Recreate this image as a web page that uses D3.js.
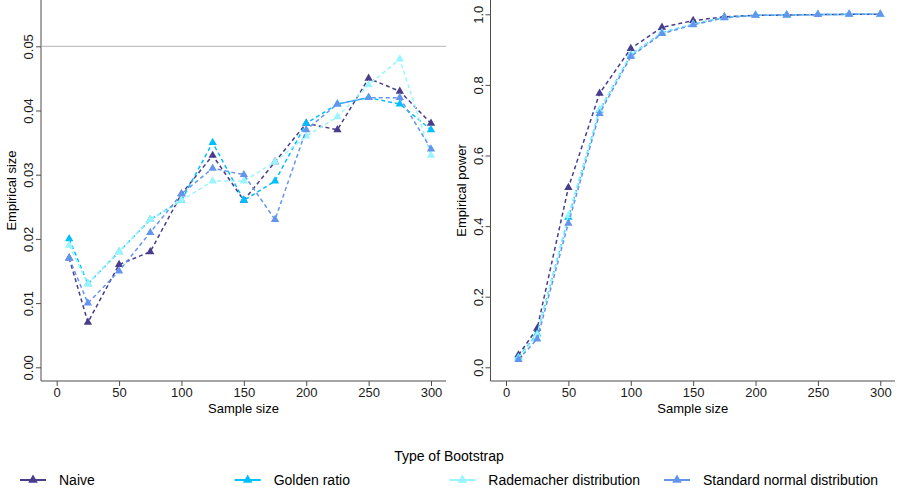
<!DOCTYPE html>
<html>
<head>
<meta charset="utf-8">
<script src="https://cdn.jsdelivr.net/npm/d3@7"></script>
<style>
  body { margin: 0; background: #fff; }
  svg { font-family: "Liberation Sans", Arial, sans-serif; }
</style>
</head>
<body>
<div id="chart"></div>
<script>
// Bootstrap simulation: empirical size and power by sample size

const sampleSizes = [10, 25, 50, 75, 100, 125, 150, 175, 200, 225, 250, 275, 300]
const bootTypes = ['Naive', 'Golden ratio', 'Rademacher distribution', 'Standard normal distribution']
const colors = ['#483D8B', '#00BFFF', '#98F5FF', '#6495ED']

// empirical size (left panel)
const sizeNaive = [0.017, 0.007, 0.016, 0.018, 0.027, 0.033, 0.026, 0.032, 0.038, 0.037, 0.045, 0.043, 0.038]
const sizeGolden = [0.020, 0.013, 0.018, 0.023, 0.026, 0.035, 0.026, 0.029, 0.038, 0.041, 0.042, 0.041, 0.037]
const sizeRademacher = [0.019, 0.013, 0.018, 0.023, 0.026, 0.029, 0.029, 0.032, 0.036, 0.039, 0.044, 0.048, 0.033]
const sizeNormal = [0.017, 0.010, 0.015, 0.021, 0.027, 0.031, 0.030, 0.023, 0.037, 0.041, 0.042, 0.042, 0.034]

// empirical power (right panel)
const powerNaive = [0.035, 0.11, 0.509, 0.776, 0.903, 0.963, 0.982, 0.993, 0.997, 0.998, 0.999, 1.0, 1.0]
const powerGolden = [0.028, 0.095, 0.425, 0.728, 0.885, 0.948, 0.972, 0.991, 0.997, 0.998, 0.999, 1.0, 1.0]
const powerRademacher = [0.026, 0.092, 0.430, 0.730, 0.884, 0.947, 0.972, 0.990, 0.997, 0.998, 0.999, 1.0, 1.0]
const powerNormal = [0.022, 0.080, 0.408, 0.719, 0.880, 0.945, 0.970, 0.990, 0.997, 0.998, 0.999, 1.0, 1.0]

const xTicks = [0, 50, 100, 150, 200, 250, 300]
const sizeTicks = [0, 0.01, 0.02, 0.03, 0.04, 0.05]
const powerTicks = [0, 0.2, 0.4, 0.6, 0.8, 1.0]
const sizeLevel = 0.05

const width = 899
const height = 500

const svg = d3.select('#chart')
  .append('svg')
  .attr('width', width)
  .attr('height', height)

const triangle = d3.symbol().type(d3.symbolTriangle).size(30)

// draw one panel
const panel = (opts) => {
  const x = d3.scaleLinear().domain([0, 300]).range([opts.x0, opts.x1])
  const y = d3.scaleLinear().domain(opts.yDomain).range([opts.y0, opts.y1])
  const g = svg.append('g')

  // L-shaped frame
  g.append('path')
    .attr('d', `M${opts.left},0V${opts.bottom}H${opts.right}`)
    .attr('fill', 'none')
    .attr('stroke', '#4d4d4d')
    .attr('stroke-width', 1)

  // y axis
  const yAxis = g.append('g')
    .attr('transform', `translate(${opts.left},0)`)
    .call(d3.axisLeft(y).tickValues(opts.yTicks).tickSize(5).tickFormat(opts.yFormat))
  yAxis.select('.domain').remove()
  yAxis.selectAll('.tick line').attr('stroke', '#4d4d4d')
  yAxis.selectAll('.tick text')
    .attr('x', null).attr('dy', null)
    .attr('transform', 'translate(-8,0) rotate(-90)')
    .attr('text-anchor', 'middle')
    .attr('fill', '#1a1a1a')
    .style('font-size', '13px')

  // x axis
  const xAxis = g.append('g')
    .attr('transform', `translate(0,${opts.bottom})`)
    .call(d3.axisBottom(x).tickValues(xTicks).tickSize(5))
  xAxis.select('.domain').remove()
  xAxis.selectAll('.tick line').attr('stroke', '#4d4d4d')
  xAxis.selectAll('.tick text')
    .attr('y', 16).attr('dy', null)
    .attr('fill', '#1a1a1a')
    .style('font-size', '13px')

  g.append('text')
    .text('Sample size')
    .attr('x', (opts.left + opts.right) / 2)
    .attr('y', opts.bottom + 32)
    .attr('text-anchor', 'middle')
    .style('font-size', '13px')

  g.append('text')
    .text(opts.title)
    .attr('transform', `translate(${opts.left - 25},${opts.bottom / 2}) rotate(-90)`)
    .attr('text-anchor', 'middle')
    .style('font-size', '13px')

  if (opts.refLine != null) {
    g.append('line')
      .attr('x1', opts.left).attr('x2', opts.right)
      .attr('y1', y(opts.refLine)).attr('y2', y(opts.refLine))
      .attr('stroke', '#b3b3b3')
      .attr('stroke-width', 1)
  }

  const line = d3.line()
    .x((d, i) => x(sampleSizes[i]))
    .y((d) => y(d))

  opts.series.forEach((vals, k) => {
    g.append('path')
      .datum(vals)
      .attr('d', line)
      .attr('fill', 'none')
      .attr('stroke', colors[k])
      .attr('stroke-width', 1.5)
      .attr('stroke-dasharray', '4,3')
    g.selectAll(null)
      .data(vals)
      .enter().append('path')
      .attr('d', triangle)
      .attr('transform', (d, i) => `translate(${x(sampleSizes[i])},${y(d)})`)
      .attr('fill', colors[k])
  })
}

panel({
  left: 41, right: 446, bottom: 381,
  x0: 56.7, x1: 431,
  yDomain: [0, 0.05], y0: 367.3, y1: 46.3,
  yTicks: sizeTicks, yFormat: d3.format('.2f'),
  title: 'Empirical size',
  refLine: sizeLevel,
  series: [sizeNaive, sizeGolden, sizeRademacher, sizeNormal]
})

panel({
  left: 490.5, right: 895, bottom: 381,
  x0: 506, x1: 880.3,
  yDomain: [0, 1], y0: 367.3, y1: 14.3,
  yTicks: powerTicks, yFormat: d3.format('.1f'),
  title: 'Empirical power',
  refLine: null,
  series: [powerNaive, powerGolden, powerRademacher, powerNormal]
})

// Legend
svg.append('text')
  .text('Type of Bootstrap')
  .attr('x', 449)
  .attr('y', 461)
  .attr('text-anchor', 'middle')
  .style('font-size', '14px')

const legendX = d3.scalePoint().domain(bootTypes).range([20, 664])
const item = svg.selectAll('.legend-item')
  .data(bootTypes)
  .enter().append('g')
  .attr('class', 'legend-item')
  .attr('transform', (d) => `translate(${legendX(d)},480)`)

item.append('line')
  .attr('x1', 0).attr('x2', 26)
  .attr('stroke', (d, i) => colors[i])
  .attr('stroke-width', 2)
item.append('path')
  .attr('d', d3.symbol().type(d3.symbolTriangle).size(40))
  .attr('transform', 'translate(13,0)')
  .attr('fill', (d, i) => colors[i])
item.append('text')
  .text((d) => d)
  .attr('x', 39)
  .attr('y', 5)
  .style('font-size', '14px')
</script>
</body>
</html>
